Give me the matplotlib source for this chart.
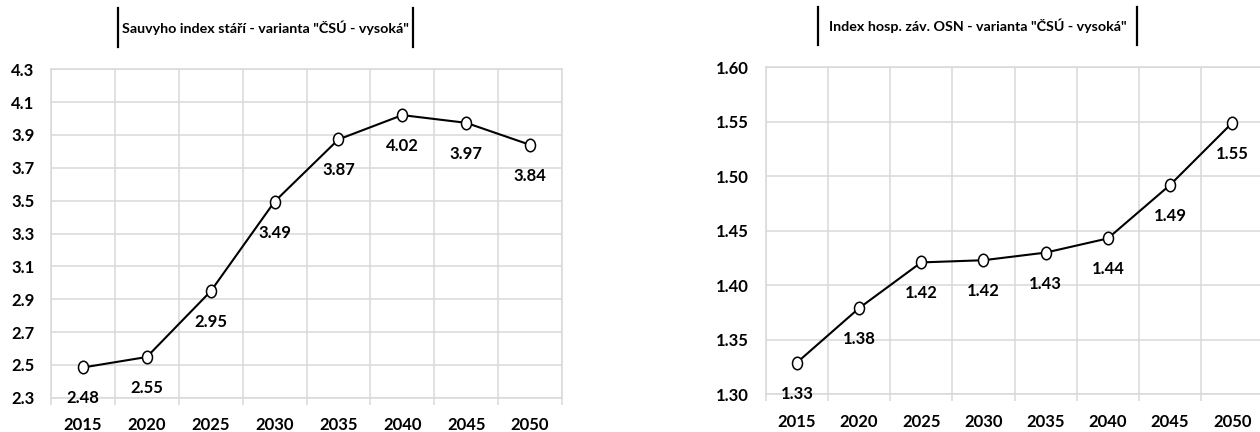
import numpy as np
import matplotlib
matplotlib.use("Agg")
import matplotlib.pyplot as plt
from matplotlib.path import Path
from matplotlib.lines import Line2D
from matplotlib.ticker import FixedLocator, FormatStrFormatter

plt.rcParams['font.family'] = ['Lato', 'DejaVu Sans']

years = ['2015', '2020', '2025', '2030', '2035', '2040', '2045', '2050']
sauvy = [2.484, 2.548, 2.948, 3.494, 3.873, 4.021, 3.974, 3.84]
osn = [1.329, 1.379, 1.421, 1.423, 1.430, 1.443, 1.492, 1.549]
sauvy_title = 'Sauvyho index stáří - varianta "ČSÚ - vysoká"'
osn_title = 'Index hosp. záv. OSN - varianta "ČSÚ - vysoká"'

W, H = 1260, 432
fig = plt.figure(figsize=(12.6, 4.32), dpi=100)

# elliptic "O" marker
circ = Path.unit_circle()
oval = Path(circ.vertices * np.array([0.8, 1.0]), circ.codes)

grid_c = '#d9d9d9'


def px(x0, y0, x1, y1):
    return [x0 / W, 1 - y1 / H, (x1 - x0) / W, (y1 - y0) / H]


def draw(ax, vals, ylim, step, fmt):
    x = np.arange(len(years))
    ax.plot(x, vals, color='black', lw=1.5, marker=oval, ms=9,
            mfc='white', mec='black', mew=1.1, zorder=3, clip_on=False)
    for xi, v in zip(x, vals):
        ax.annotate(f'{v:.2f}', (xi, v), xytext=(0, -22.3), textcoords='offset points',
                    ha='center', va='center', fontsize=12, fontweight='bold')
    ax.set_xlim(-0.5, len(years) - 0.5)
    ax.set_ylim(*ylim)
    ax.set_xticks(x)
    ax.set_xticklabels(years)
    ax.xaxis.set_minor_locator(FixedLocator(np.arange(-0.5, len(years), 1)))
    ax.set_yticks(np.arange(ylim[0], ylim[1] + step / 2, step))
    ax.yaxis.set_major_formatter(FormatStrFormatter(fmt))
    ax.tick_params(axis='x', which='major', length=0, pad=14)
    ax.tick_params(axis='x', which='minor', length=5, width=1.1, color=grid_c)
    ax.tick_params(axis='y', length=0, pad=12)
    for lab in ax.get_xticklabels() + ax.get_yticklabels():
        lab.set_fontsize(12)
        lab.set_fontweight('bold')
    ax.grid(True, which='minor', axis='x', color=grid_c, lw=1.1)
    ax.grid(True, which='major', axis='y', color=grid_c, lw=1.1)
    for s in ax.spines.values():
        s.set_color(grid_c)
        s.set_linewidth(1.1)
    ax.set_axisbelow(True)


ax1 = fig.add_axes(px(51, 69.3, 562, 397.7))
draw(ax1, sauvy, (2.3, 4.3), 0.2, '%.1f')
ax2 = fig.add_axes(px(765.7, 67.3, 1263.3, 394.3))
draw(ax2, osn, (1.30, 1.60), 0.05, '%.2f')


def title_box(text, xl, xr, yt, yb):
    fig.text((xl + xr) / 2 / W, 1 - (yt + yb) / 2 / H, text, ha='center', va='center',
             fontsize=10.3, fontweight='bold')
    for xx in (xl, xr):
        fig.add_artist(Line2D([xx / W, xx / W], [1 - yt / H, 1 - yb / H],
                              color='black', lw=1.6))


title_box(sauvy_title, 118, 413, 8, 47)
title_box(osn_title, 818, 1137, 7, 45)

fig.savefig('out.png', dpi=100)
